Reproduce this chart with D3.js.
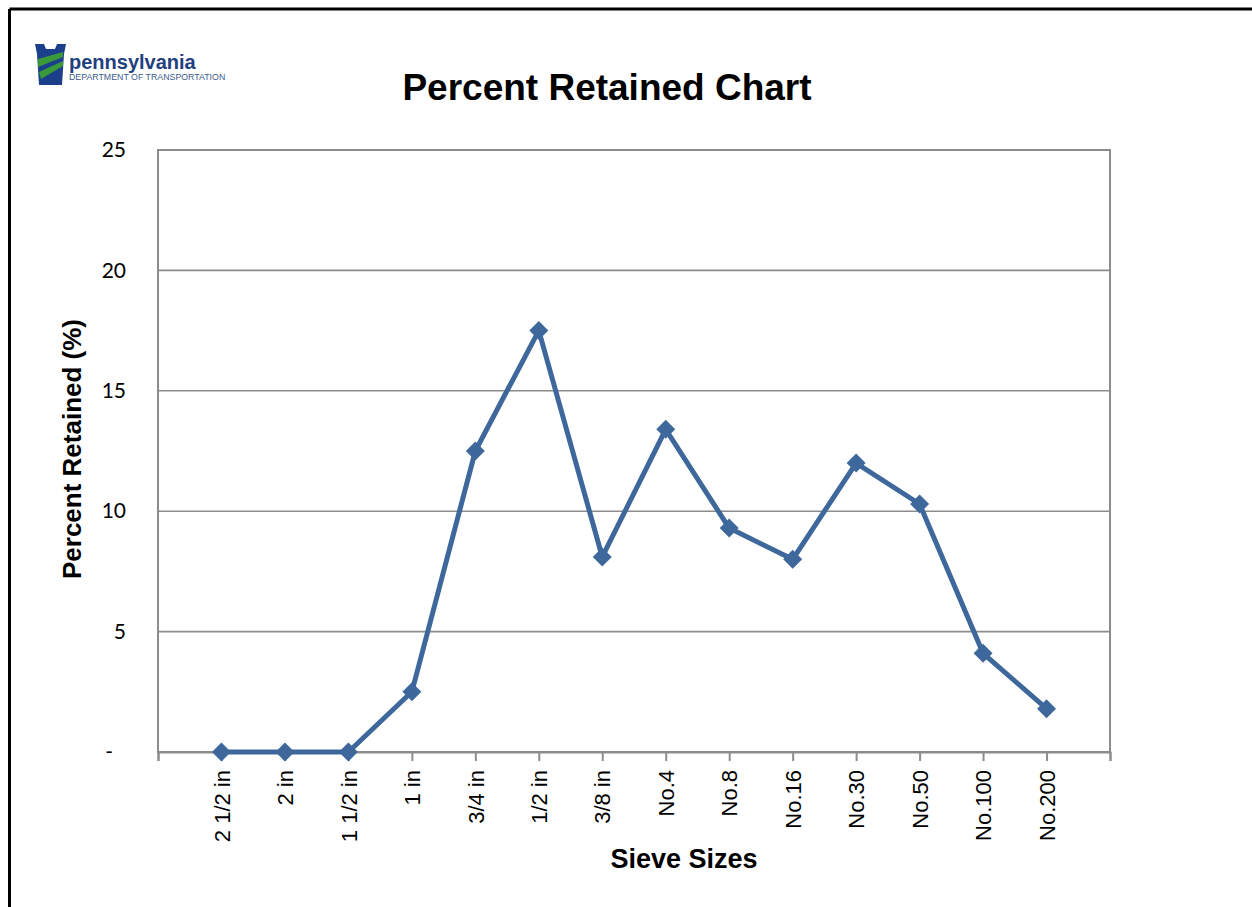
<!DOCTYPE html>
<html>
<head>
<meta charset="utf-8">
<script src="https://cdn.jsdelivr.net/npm/d3@7"></script>
<style>
  body { margin: 0; background: #fff; }
  svg { display: block; }
</style>
</head>
<body>
<script>
var sieves = ["2 1/2 in", "2 in", "1 1/2 in", "1 in", "3/4 in", "1/2 in", "3/8 in",
              "No.4", "No.8", "No.16", "No.30", "No.50", "No.100", "No.200"];
var retained = [0, 0, 0, 2.5, 12.5, 17.5, 8.1, 13.4, 9.3, 8.0, 12.0, 10.3, 4.1, 1.8];
var yTicks = [0, 5, 10, 15, 20, 25];

var W = 1252, H = 907;
var margin = { top: 150, right: 142, bottom: 155, left: 158 },
    width = W - margin.left - margin.right,
    height = H - margin.top - margin.bottom;

var svg = d3.select("body").append("svg")
    .attr("width", W)
    .attr("height", H);

// page frame (left and top edges)
svg.append("line").attr("x1", 9.5).attr("x2", W).attr("y1", 9).attr("y2", 9)
    .attr("stroke", "#000").attr("stroke-width", 3);
svg.append("line").attr("x1", 9.5).attr("x2", 9.5).attr("y1", 9).attr("y2", H)
    .attr("stroke", "#000").attr("stroke-width", 3);

// logo
var logo = svg.append("g").attr("transform", "translate(35,44)");
logo.append("path")
    .attr("d", "M0,0 L9,0 L11,5 L20,5 L22,0 L31,0 L29,10 L27,41 L4,41 L2,10 Z")
    .attr("fill", "#1b3f8b");
logo.append("path")
    .attr("d", "M3,15 L28,8 L28,13 L3,23 Z M4,28 L28,17 L28,22 L6,35 Z")
    .attr("fill", "#3a9a3a");
logo.append("circle").attr("cx", 20).attr("cy", 33).attr("r", 4).attr("fill", "#1b3f8b");
logo.append("text").attr("x", 34).attr("y", 25)
    .style("font-family", "Liberation Sans, Arial, sans-serif")
    .style("font-weight", "bold").style("font-size", "20px")
    .attr("fill", "#1f3f7f").text("pennsylvania");
logo.append("text").attr("x", 34).attr("y", 36)
    .style("font-family", "Liberation Sans, Arial, sans-serif")
    .style("font-size", "8.8px")
    .attr("fill", "#3b5a8f").text("DEPARTMENT OF TRANSPORTATION");

// title
svg.append("text")
    .attr("x", 607).attr("y", 100)
    .attr("text-anchor", "middle")
    .style("font-family", "Liberation Sans, Arial, sans-serif")
    .style("font-weight", "bold").style("font-size", "37px")
    .text("Percent Retained Chart");

var g = svg.append("g")
    .attr("transform", "translate(" + margin.left + "," + margin.top + ")");

// 16 slots: an empty one on each side of the sieve categories
var slots = d3.range(sieves.length + 2);
var x = d3.scalePoint().domain(slots).range([0, width]);
var y = d3.scaleLinear().domain([0, 25]).range([height, 0]);

// gridlines
g.selectAll("line.grid").data(yTicks.slice(1, -1)).enter().append("line")
    .attr("class", "grid")
    .attr("x1", 0).attr("x2", width)
    .attr("y1", function (d) { return y(d); })
    .attr("y2", function (d) { return y(d); })
    .attr("stroke", "#8c8c8c").attr("stroke-width", 1.6);

// plot frame
g.append("rect").attr("x", 0).attr("y", 0).attr("width", width).attr("height", height)
    .attr("fill", "none").attr("stroke", "#8c8c8c").attr("stroke-width", 2);

// y axis labels
var yAxis = d3.axisLeft(y).tickValues(yTicks).tickSize(0).tickPadding(32)
    .tickFormat(function (d) { return d === 0 ? "-" : d; });
var ya = g.append("g").call(yAxis);
ya.select(".domain").remove();
ya.selectAll("text")
    .style("font-family", "Lato, 'Noto Sans', sans-serif")
    .style("font-size", "21px")
    .attr("fill", "#000");
ya.selectAll("text").filter(function (d) { return d === 0; }).attr("x", -45);

// x axis
var xAxis = d3.axisBottom(x).tickSize(9).tickPadding(0)
    .tickFormat(function (d) { return d > 0 && d <= sieves.length ? sieves[d - 1] : ""; });
var xa = g.append("g").attr("transform", "translate(0," + height + ")").call(xAxis);
xa.select(".domain").attr("stroke", "#8c8c8c").attr("stroke-width", 2);
xa.selectAll(".tick line").attr("stroke", "#8c8c8c").attr("stroke-width", 2);
xa.selectAll("text")
    .attr("transform", "rotate(-90)")
    .attr("x", -18).attr("y", 0).attr("dy", "0.35em")
    .attr("text-anchor", "end")
    .style("font-family", "Liberation Sans, Arial, sans-serif")
    .style("font-size", "22px")
    .attr("fill", "#000");

// axis titles
svg.append("text")
    .attr("transform", "translate(81,449) rotate(-90)")
    .attr("text-anchor", "middle")
    .style("font-family", "Liberation Sans, Arial, sans-serif")
    .style("font-weight", "bold").style("font-size", "26px")
    .text("Percent Retained (%)");
svg.append("text")
    .attr("x", 684).attr("y", 868)
    .attr("text-anchor", "middle")
    .style("font-family", "Liberation Sans, Arial, sans-serif")
    .style("font-weight", "bold").style("font-size", "27px")
    .text("Sieve Sizes");

// series
var pts = retained.map(function (v, i) { return { i: i + 1, v: v }; });
var line = d3.line()
    .x(function (d) { return x(d.i); })
    .y(function (d) { return y(d.v); });
g.append("path").datum(pts)
    .attr("d", line)
    .attr("fill", "none")
    .attr("stroke", "#3e689c")
    .attr("stroke-width", 5)
    .attr("stroke-linejoin", "round");

g.selectAll("path.marker").data(pts).enter().append("path")
    .attr("class", "marker")
    .attr("d", d3.symbol().type(d3.symbolDiamond2).size(230))
    .attr("transform", function (d) { return "translate(" + x(d.i) + "," + y(d.v) + ")"; })
    .attr("fill", "#3e689c");
</script>
</body>
</html>
